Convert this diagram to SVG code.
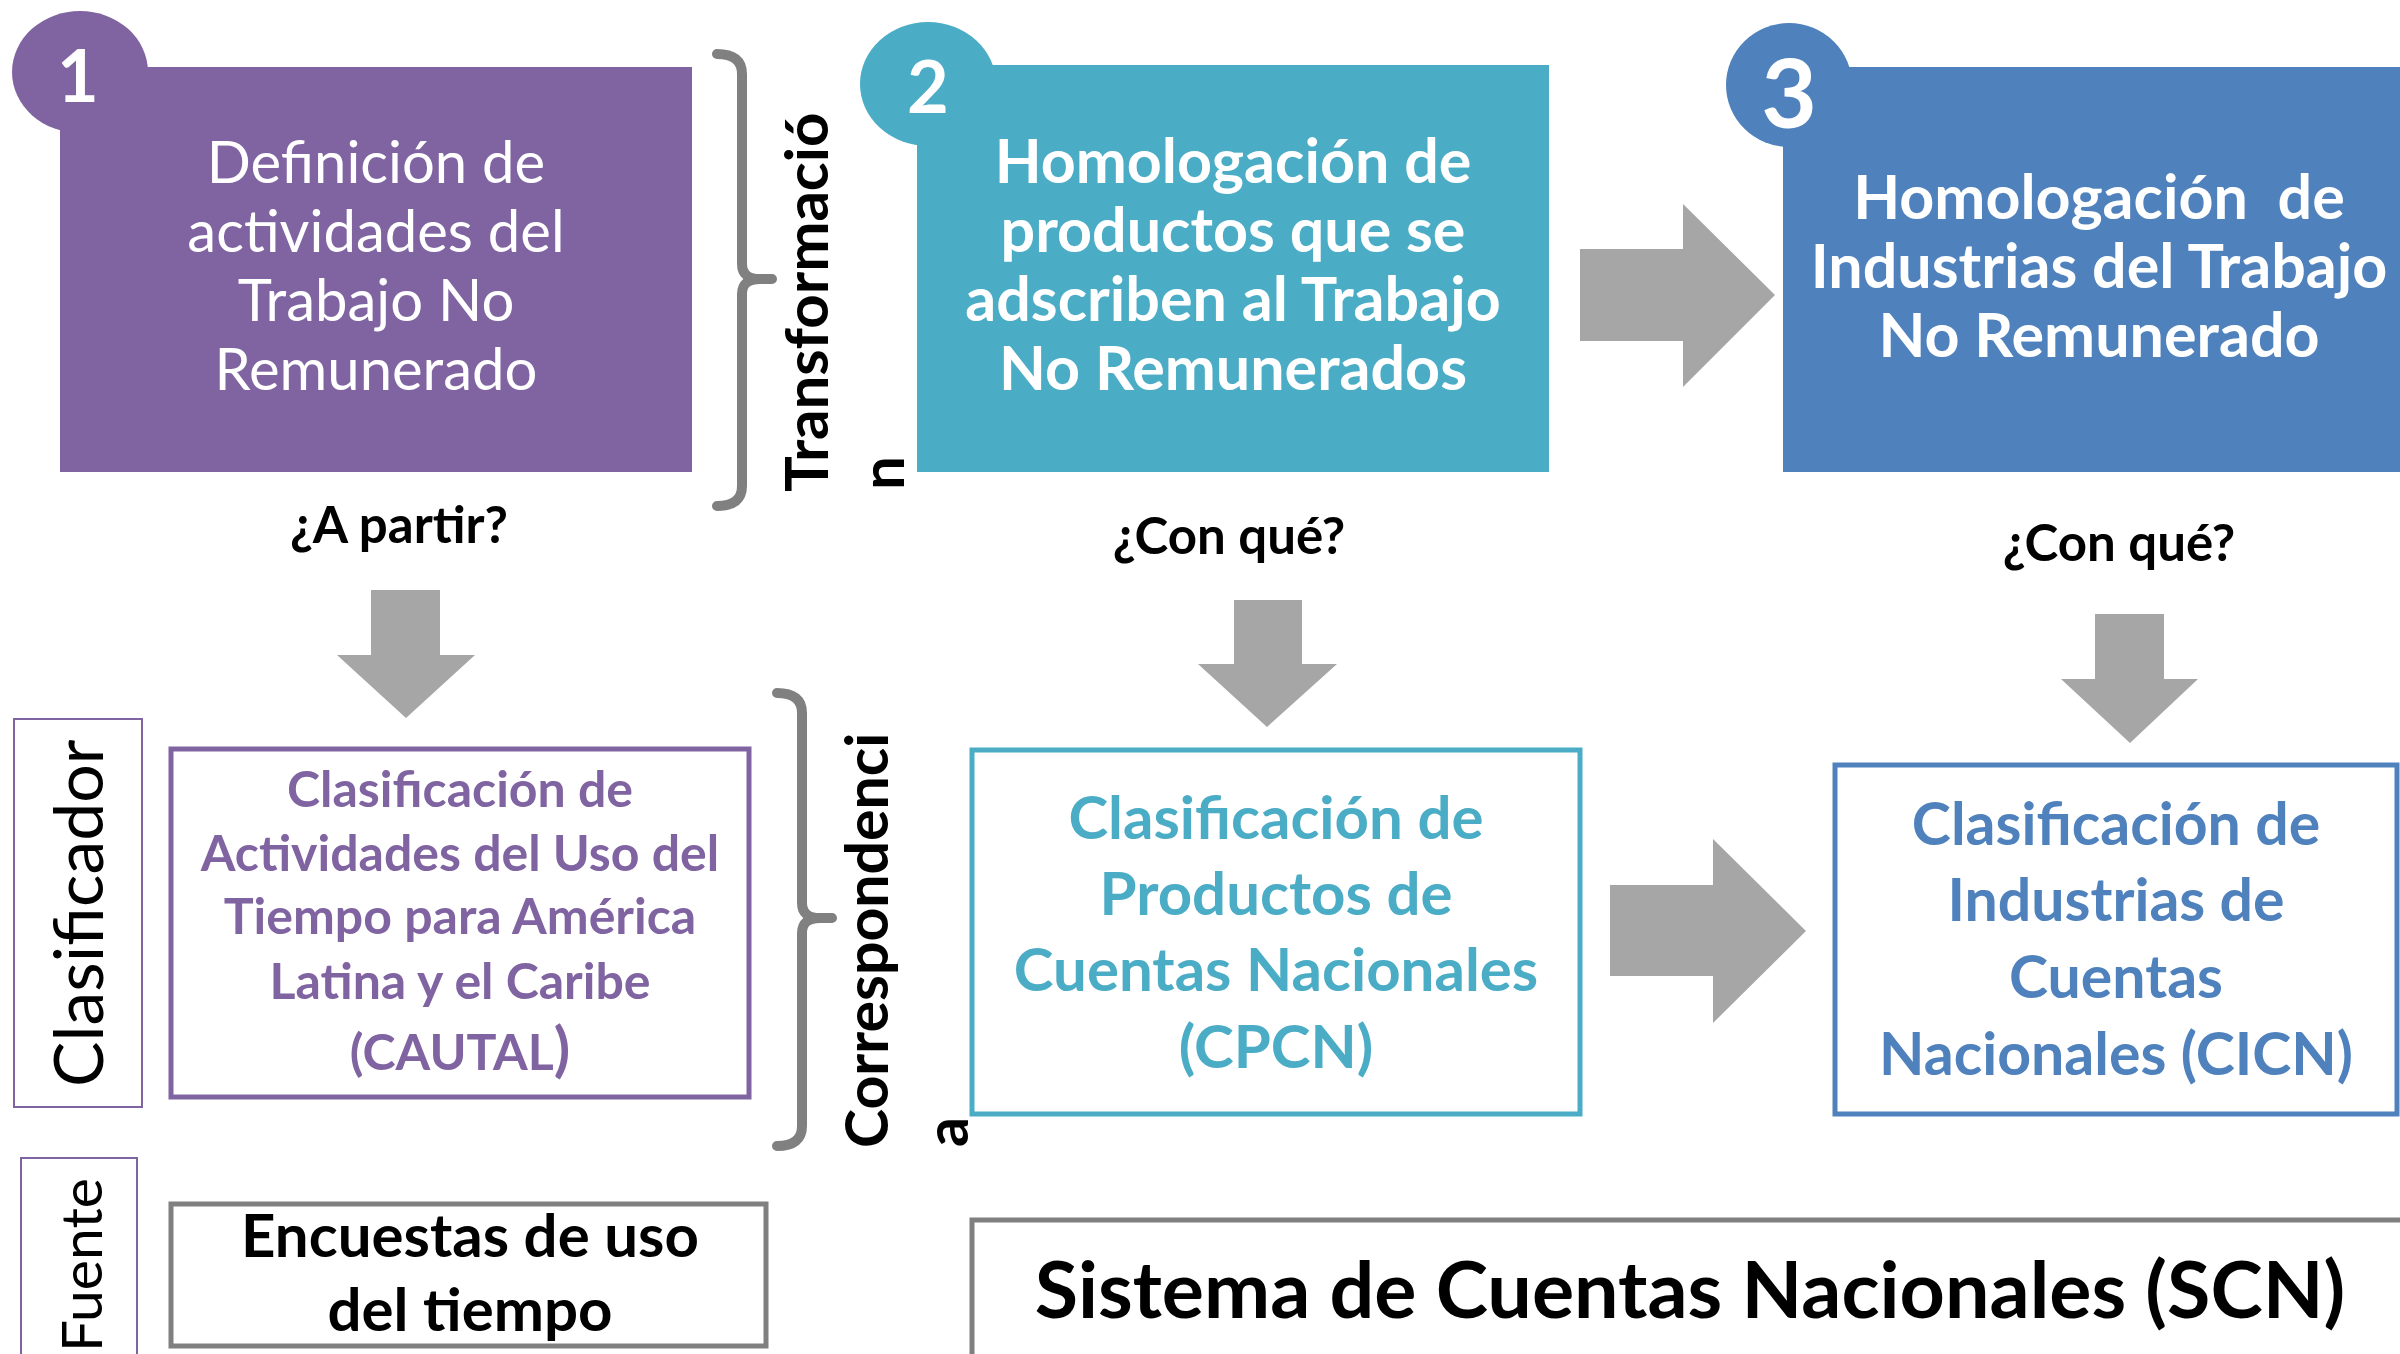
<svg xmlns="http://www.w3.org/2000/svg" width="2400" height="1354" viewBox="0 0 2400 1354">
<style>
text{font-family:Lato,"Open Sans","Liberation Sans",sans-serif;text-anchor:middle}
.w{fill:#fff}
.b{font-weight:bold}
.k{fill:#000}
.reg{font-weight:normal}
.pu{fill:#8064A2}
.te{fill:#4BACC6}
.bl{fill:#4F81BD}
.arr{fill:#A6A6A6}
.brace{fill:none;stroke:#808080;stroke-width:10;stroke-linecap:round;stroke-linejoin:round}
.rot{text-anchor:start}
</style>
<rect width="2400" height="1354" fill="#fff"/>

<g id="step1">
<ellipse cx="80" cy="72" rx="68" ry="61" fill="#8064A2"/>
<rect x="60" y="67" width="632" height="405" fill="#8064A2"/>
<text x="78" y="102" class="w b" font-size="72">1</text>
<g class="w reg" font-size="58">
<text x="376" y="183" class="w">Definición de</text>
<text x="376" y="252" class="w">actividades del</text>
<text x="376" y="321" class="w">Trabajo No</text>
<text x="376" y="390" class="w">Remunerado</text>
</g>
</g>

<g id="step2">
<ellipse cx="928" cy="84" rx="68" ry="62" fill="#4BACC6"/>
<rect x="917" y="65" width="632" height="407" fill="#4BACC6"/>
<text x="928" y="113" class="w b" font-size="72">2</text>
<g font-size="61">
<text x="1233" y="183" class="w b">Homologación de</text>
<text x="1233" y="252" class="w b">productos que se</text>
<text x="1233" y="321" class="w b">adscriben al Trabajo</text>
<text x="1233" y="390" class="w b">No Remunerados</text>
</g>
</g>

<g id="step3">
<ellipse cx="1789" cy="85" rx="63" ry="62" fill="#4F81BD"/>
<rect x="1783" y="67" width="632" height="405" fill="#4F81BD"/>
<text x="1789" y="128" class="w b" font-size="96">3</text>
<g font-size="61">
<text x="2099" y="219" class="w b" style="white-space:pre">Homologación  de</text>
<text x="2099" y="288" class="w b">Industrias del Trabajo</text>
<text x="2099" y="357" class="w b">No Remunerado</text>
</g>
</g>

<g id="label-transformacion">
<path class="brace" d="M717,54 Q742,54 742,74 L742,264 Q742,279 760,279 L772,279 M760,279 Q742,279 742,294 L742,486 Q742,506 717,506"/>
<text class="k b rot" font-size="60" transform="translate(828,492) rotate(-90)">Transformació</text>
<text class="k b rot" font-size="60" transform="translate(904,490) rotate(-90)">n</text>
</g>

<g id="label-correspondencia">
<path class="brace" d="M777,693 Q802,693 802,713 L802,903 Q802,918 820,918 L832,918 M820,918 Q802,918 802,933 L802,1126 Q802,1146 777,1146"/>
<text class="k b rot" font-size="59" transform="translate(888,1148) rotate(-90)">Correspondenci</text>
<text class="k b rot" font-size="59" transform="translate(968,1147) rotate(-90)">a</text>
</g>

<g id="q1"><text x="399" y="543" class="k b" font-size="51">¿A partir?</text></g>
<g id="q2"><text x="1229" y="554" class="k b" font-size="51">¿Con qué?</text></g>
<g id="q3"><text x="2119" y="561" class="k b" font-size="51">¿Con qué?</text></g>

<g id="clasificador">
<rect x="14" y="719" width="128" height="388" fill="none" stroke="#8064A2" stroke-width="2"/>
<text class="k reg rot" font-size="68" transform="translate(103,1087) rotate(-90)">Clasificador</text>
</g>

<g id="fuente">
<rect x="21" y="1158" width="116" height="210" fill="none" stroke="#8064A2" stroke-width="2"/>
<text class="k reg rot" font-size="57" transform="translate(102,1352) rotate(-90)">Fuente</text>
</g>

<g id="cautal">
<rect x="171" y="749" width="578" height="348" fill="#fff" stroke="#8064A2" stroke-width="5"/>
<g font-size="50">
<text x="460" y="807" class="pu b">Clasificación de</text>
<text x="460" y="871" class="pu b">Actividades del Uso del</text>
<text x="460" y="934" class="pu b">Tiempo para América</text>
<text x="460" y="999" class="pu b">Latina y el Caribe</text>
<text x="460" y="1070" class="pu b">(CAUTAL<tspan font-size="60">)</tspan></text>
</g>
</g>

<g id="cpcn">
<rect x="972" y="750" width="608" height="364" fill="#fff" stroke="#4BACC6" stroke-width="5"/>
<g font-size="60">
<text x="1276" y="839" class="te b">Clasificación de</text>
<text x="1276" y="915" class="te b">Productos de</text>
<text x="1276" y="991" class="te b">Cuentas Nacionales</text>
<text x="1276" y="1068" class="te b">(CPCN)</text>
</g>
</g>

<g id="cicn">
<rect x="1835" y="765" width="562" height="349" fill="#fff" stroke="#4F81BD" stroke-width="5"/>
<g font-size="59">
<text x="2116" y="845" class="bl b">Clasificación de</text>
<text x="2116" y="921" class="bl b">Industrias de</text>
<text x="2116" y="998" class="bl b">Cuentas</text>
<text x="2116" y="1075" class="bl b">Nacionales (CICN)</text>
</g>
</g>

<g id="encuestas">
<rect x="171" y="1204" width="595" height="142" fill="#fff" stroke="#808080" stroke-width="5"/>
<text x="470" y="1257" class="k b" font-size="60">Encuestas de uso</text>
<text x="470" y="1331" class="k b" font-size="60">del tiempo</text>
</g>

<g id="scn">
<rect x="972" y="1220" width="1450" height="200" fill="#fff" stroke="#808080" stroke-width="5"/>
<text x="1690" y="1318" class="k b" font-size="79">Sistema de Cuentas Nacionales (SCN)</text>
</g>

<g id="connectors">
<polygon class="arr" points="1580,249 1683,249 1683,204 1775,295 1683,387 1683,341 1580,341"/>
<polygon class="arr" points="1610,885 1713,885 1713,839 1806,931 1713,1023 1713,976 1610,976"/>
<polygon class="arr" points="371,590 440,590 440,655 475,655 406,718 337,655 371,655"/>
<polygon class="arr" points="1234,600 1302,600 1302,664 1337,664 1267,727 1198,664 1234,664"/>
<polygon class="arr" points="2095,614 2164,614 2164,679 2198,679 2130,743 2061,679 2095,679"/>
</g>
</svg>
